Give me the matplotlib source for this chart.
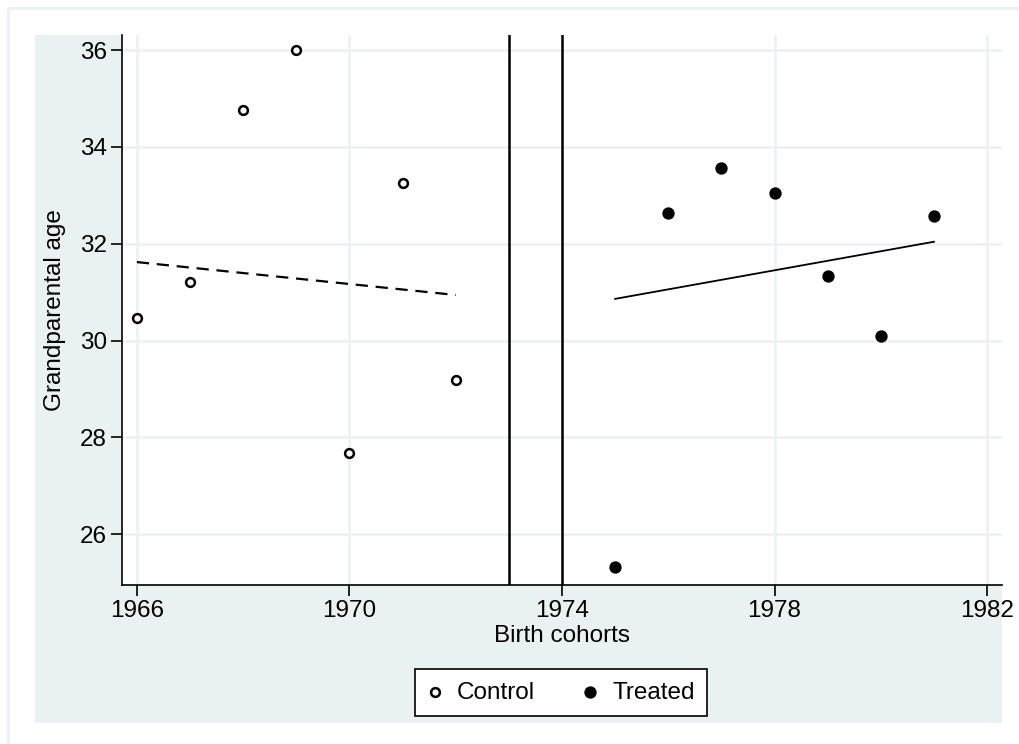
import numpy as np
import matplotlib
matplotlib.use("Agg")
import matplotlib.pyplot as plt
from matplotlib.patches import Rectangle

plt.rcParams['font.family'] = ['Liberation Sans', 'DejaVu Sans']

# data
control_years = [1966, 1967, 1968, 1969, 1970, 1971, 1972]
control_age = [30.46, 31.21, 34.76, 36.0, 27.67, 33.25, 29.18]
treated_years = [1975, 1976, 1977, 1978, 1979, 1980, 1981]
treated_age = [25.32, 32.63, 33.56, 33.05, 31.33, 30.09, 32.57]

# fitted lines (endpoints)
control_fit_x = [1966, 1972]
control_fit_y = [31.62, 30.94]
treated_fit_x = [1975, 1981]
treated_fit_y = [30.86, 32.04]

cutoffs = [1973, 1974]
xticks = [1966, 1970, 1974, 1978, 1982]
yticks = [26, 28, 30, 32, 34, 36]

panel_col = '#EAF1F3'
grid_col = '#EAF1F4'

fig = plt.figure(figsize=(10.2, 7.44), dpi=100)
W, H = 1020, 744

# outer faint frame and shaded panel (Stata style)
fig.patches.append(Rectangle((8 / W, -0.01), 1012 / W, 1 - 8 / H + 0.01,
                             transform=fig.transFigure, facecolor='white',
                             edgecolor=grid_col, lw=2, zorder=-3))
fig.patches.append(Rectangle((35 / W, 1 - 723 / H), (1002 - 35) / W, (723 - 35) / H,
                             transform=fig.transFigure, facecolor=panel_col,
                             edgecolor='none', zorder=-2))

ax = fig.add_axes([122 / W, 1 - 585 / H, (1002 - 122) / W, (585 - 35) / H])
ax.set_zorder(1)
ax.set_facecolor('white')

ax.set_xlim(1965.72, 1982.28)
ax.set_ylim(24.95, 36.31)
ax.set_xticks(xticks)
ax.set_yticks(yticks)
ax.grid(True, color=grid_col, lw=1.8)
ax.set_axisbelow(True)

for s in ['top', 'right']:
    ax.spines[s].set_visible(False)
for s in ['left', 'bottom']:
    ax.spines[s].set_linewidth(1.2)
ax.tick_params(direction='out', length=8, width=1.2, labelsize=17.5, pad=3)

for c in cutoffs:
    ax.axvline(c, color='black', lw=1.8, zorder=2)

ax.plot(control_fit_x, control_fit_y, color='black', lw=1.6, ls=(0, (5.5, 3.5)), zorder=3)
ax.plot(treated_fit_x, treated_fit_y, color='black', lw=1.3, zorder=3)

ax.scatter(control_years, control_age, s=40, facecolors='white', edgecolors='black',
           linewidths=1.8, zorder=4, label='Control')
ax.scatter(treated_years, treated_age, s=62, color='black', zorder=4, label='Treated')

ax.set_xlabel('Birth cohorts', fontsize=17.5, labelpad=2)
ax.set_ylabel('Grandparental age', fontsize=17.5, labelpad=10)

leg = fig.legend(loc='center', bbox_to_anchor=(561 / W, 1 - 692.5 / H), ncol=2,
                 fontsize=17.5, frameon=True, fancybox=False, edgecolor='black',
                 framealpha=1, handlelength=0.6, handletextpad=0.6,
                 columnspacing=2.0, borderpad=0.5, borderaxespad=0)
leg.get_frame().set_linewidth(1.2)
leg.set_zorder(2)

fig.savefig('out.png', dpi=100)
